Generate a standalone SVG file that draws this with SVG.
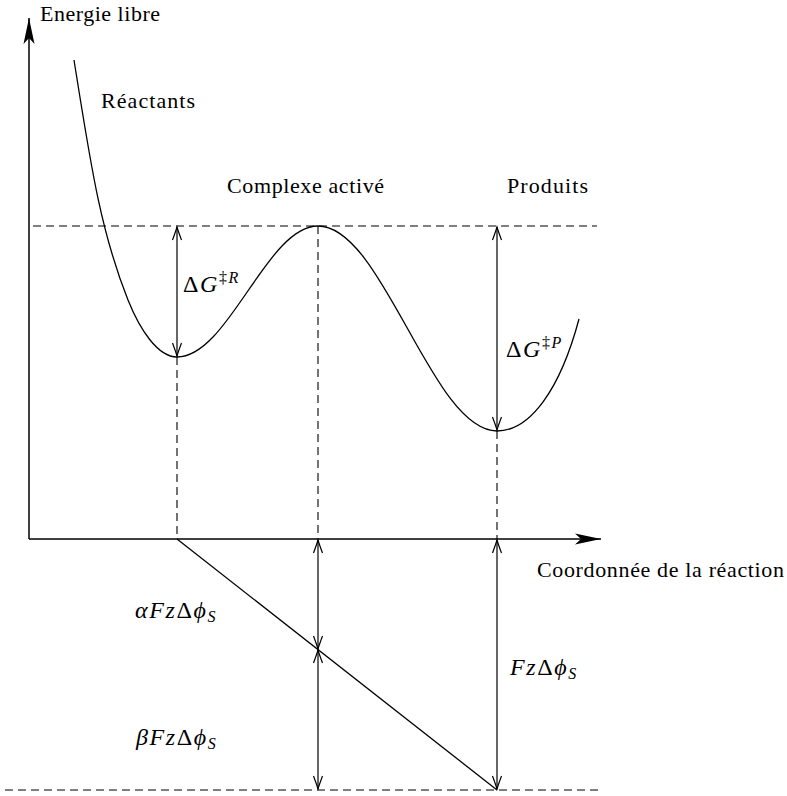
<svg xmlns="http://www.w3.org/2000/svg" width="787" height="796" viewBox="0 0 787 796">
<style>
.t{font-family:'Liberation Serif','DejaVu Serif',serif;font-size:22px;fill:#000}
.m{font-family:'Liberation Serif','DejaVu Serif',serif;font-size:24px;letter-spacing:1.6px;fill:#000}
.i{font-style:italic}
.ln{stroke:#000;stroke-width:1.3;fill:none}
.ax{stroke:#000;stroke-width:1.5;fill:none}
.ds{stroke:#000;stroke-width:1.1;fill:none;stroke-dasharray:8 5}
.ar{stroke:#000;stroke-width:1.2;fill:none;marker-start:url(#oa);marker-end:url(#oa)}
</style>
<defs>
<marker id="oa" viewBox="-14 -6 16 12" refX="0" refY="0" markerWidth="16" markerHeight="12" markerUnits="userSpaceOnUse" orient="auto-start-reverse">
<path d="M-13,-4.5 Q-5,-1.5 0,0 Q-5,1.5 -13,4.5" fill="none" stroke="#000" stroke-width="1.2"/>
</marker>
<marker id="fa" viewBox="-27 -7 28 14" refX="0" refY="0" markerWidth="28" markerHeight="14" markerUnits="userSpaceOnUse" orient="auto">
<path d="M0,0 L-26,-5.5 L-20,0 L-26,5.5 Z" fill="#000"/>
</marker>
</defs>
<g id="axes">
<line class="ax" x1="29" y1="539" x2="29" y2="18" marker-end="url(#fa)"/>
<line class="ax" x1="29" y1="539" x2="601" y2="539" marker-end="url(#fa)"/>
</g>
<g id="curve">
<path class="ln" d="M74,60 C90,160 100,230 128,300 C140,330 158,357 177,357 C228.4,357 266.6,226 318,226 C383.2,226 431.8,431 497,431 C530,431 560,390 579,319"/>
<line class="ln" x1="177" y1="539" x2="497" y2="790"/>
</g>
<g id="guides">
<line class="ds" x1="33" y1="226" x2="597" y2="226"/>
<line class="ds" x1="5" y1="790" x2="600" y2="790"/>
<line class="ds" x1="177" y1="357" x2="177" y2="539"/>
<line class="ds" x1="318" y1="226" x2="318" y2="539"/>
<line class="ds" x1="497" y1="431" x2="497" y2="539"/>
</g>
<g id="connectors">
<line class="ar" x1="177" y1="227" x2="177" y2="356"/>
<line class="ar" x1="497" y1="227" x2="497" y2="430"/>
<line class="ar" x1="318" y1="540" x2="318" y2="649"/>
<line class="ar" x1="318" y1="650" x2="318" y2="789"/>
<line class="ar" x1="497" y1="540" x2="497" y2="789"/>
</g>
<g id="labels">
<text class="t" x="40" y="21" textLength="120">Energie libre</text>
<text class="t" x="101" y="108" textLength="94">Réactants</text>
<text class="t" x="227" y="193" textLength="157">Complexe activé</text>
<text class="t" x="507" y="193" textLength="81">Produits</text>
<text class="t" x="537" y="577" textLength="247">Coordonnée de la réaction</text>
</g>
<g id="math">
<text class="m" x="183" y="292">Δ<tspan class="i">G</tspan><tspan font-size="16" dy="-9">‡</tspan><tspan class="i" font-size="16">R</tspan></text>
<text class="m" x="506" y="357">Δ<tspan class="i">G</tspan><tspan font-size="16" dy="-9">‡</tspan><tspan class="i" font-size="16">P</tspan></text>
<text class="m" x="135" y="618"><tspan class="i">αFz</tspan>Δ<tspan class="i">ϕ</tspan><tspan class="i" font-size="16" dy="4">S</tspan></text>
<text class="m" x="136" y="745"><tspan class="i">βFz</tspan>Δ<tspan class="i">ϕ</tspan><tspan class="i" font-size="16" dy="4">S</tspan></text>
<text class="m" x="510" y="675"><tspan class="i">Fz</tspan>Δ<tspan class="i">ϕ</tspan><tspan class="i" font-size="16" dy="4">S</tspan></text>
</g>
</svg>
